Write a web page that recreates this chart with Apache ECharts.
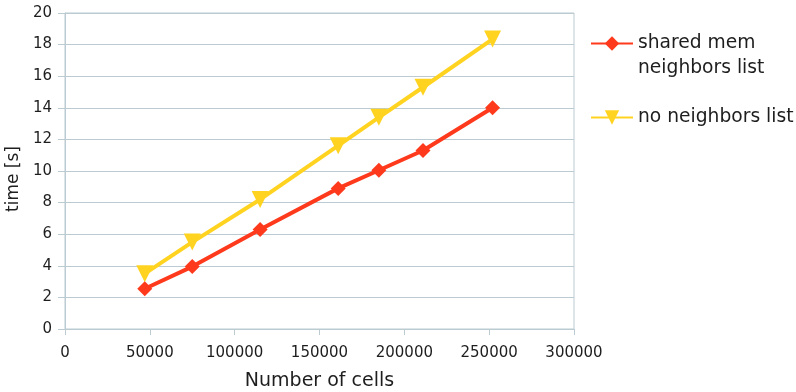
<!DOCTYPE html>
<html>
<head>
<meta charset="utf-8">
<script src="https://cdn.jsdelivr.net/npm/echarts@6/dist/echarts.min.js"></script>
<style>
  html, body { margin: 0; padding: 0; background: #fff; }
  #chart { width: 796px; height: 392px; }
</style>
</head>
<body>
<div id="chart"></div>
<script>
// Number of cells per run
const cells = [47000, 75000, 115000, 161000, 185000, 211000, 252000];
// Run time in seconds, one array per method
const sharedMem = [2.55, 3.95, 6.3, 8.9, 10.05, 11.3, 14.0];
const noList = [3.5, 5.5, 8.2, 11.6, 13.4, 15.3, 18.35];
// Legend names
const seriesNames = ['shared mem\nneighbors list', 'no neighbors list'];

const FONT = 'DejaVu Sans';
const TEXT = '#1e1e1e';
const GRID = '#bccbd2';
const RED = '#ff3a1c';
const YELLOW = '#ffd320';

const chart = echarts.init(document.getElementById('chart'), null, { renderer: 'canvas' });

chart.setOption({
  animation: false,
  backgroundColor: '#fff',
  textStyle: { fontFamily: FONT, color: TEXT },
  grid: {
    left: 65, right: 222, top: 13, bottom: 63,
    outerBoundsMode: 'none',
    containLabel: false,
    show: true, borderColor: GRID, borderWidth: 1, backgroundColor: 'transparent'
  },
  legend: {
    orient: 'vertical',
    left: 585, top: 1,
    itemWidth: 42, itemHeight: 18, itemGap: 24,
    textStyle: { fontFamily: FONT, fontSize: 18.7, color: TEXT, lineHeight: 25 },
    lineStyle: { width: 2 },
    // a leading blank line puts the first text line level with the icon
    formatter: name => name.indexOf('\n') >= 0 ? '\n' + name : name,
    data: seriesNames
  },
  xAxis: {
    type: 'value',
    min: 0, max: 300000, interval: 50000,
    name: 'Number of cells',
    nameLocation: 'middle',
    nameGap: 43,
    nameTextStyle: { fontFamily: FONT, fontSize: 19, color: TEXT },
    axisLine: { show: true, lineStyle: { color: GRID, width: 1 } },
    axisTick: { show: true, length: 6, lineStyle: { color: GRID } },
    axisLabel: { fontFamily: FONT, fontSize: 15, color: TEXT, margin: 17, formatter: v => String(v) },
    splitLine: { show: false }
  },
  yAxis: {
    type: 'value',
    min: 0, max: 20, interval: 2,
    name: 'time [s]',
    nameLocation: 'middle',
    nameGap: 42,
    nameRotate: 90,
    nameTextStyle: { fontFamily: FONT, fontSize: 17, color: TEXT, padding: [0, 16, 0, 0] },
    axisLine: { show: true, lineStyle: { color: GRID, width: 1 } },
    axisTick: { show: true, length: 7, lineStyle: { color: GRID } },
    axisLabel: { fontFamily: FONT, fontSize: 15, color: TEXT, margin: 13 },
    splitLine: { show: true, lineStyle: { color: GRID, width: 1 } }
  },
  series: [
    {
      name: seriesNames[0],
      type: 'line',
      data: cells.map((c, i) => [c, sharedMem[i]]),
      color: RED,
      lineStyle: { width: 4, color: RED },
      symbol: 'diamond',
      symbolSize: 15,
      itemStyle: { color: RED },
      z: 3
    },
    {
      name: seriesNames[1],
      type: 'line',
      data: cells.map((c, i) => [c, noList[i]]),
      color: YELLOW,
      lineStyle: { width: 4, color: YELLOW },
      symbol: 'triangle',
      symbolRotate: 180,
      symbolSize: 17,
      itemStyle: { color: YELLOW },
      z: 2
    }
  ]
});
</script>
</body>
</html>
